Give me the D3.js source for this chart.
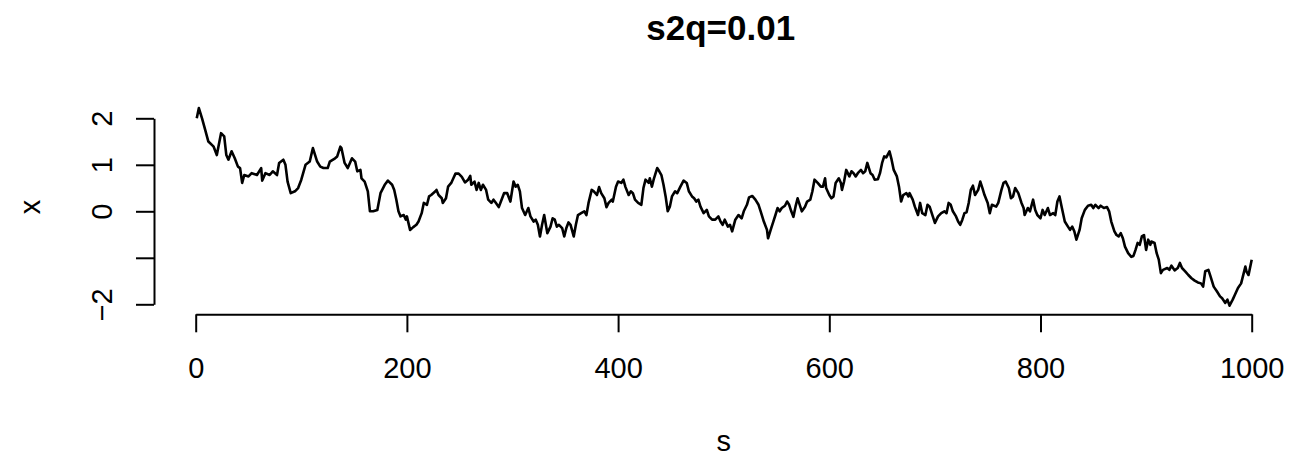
<!DOCTYPE html>
<html>
<head>
<meta charset="utf-8">
<script src="https://cdn.jsdelivr.net/npm/d3@7"></script>
<style>
  html, body { margin: 0; padding: 0; background: #fff; }
  svg { display: block; font-family: "Liberation Sans", Arial, Helvetica, sans-serif; }
</style>
</head>
<body>
<svg id="chart" width="1311" height="458"></svg>
<script>
// Simulated state path: step index s and level x
const walk = [
  [1,2.00],[3,2.22],[6,2.00],[9,1.75],[12,1.50],[17,1.39],[20,1.21],[24,1.68],[27,1.61],[29,1.21],[31,1.11],[34,1.29],[37,1.14],[40,0.96],[42,0.93],[44,0.61],[46,0.78],[50,0.75],[53,0.82],[58,0.78],[62,0.93],[63,0.66],[66,0.82],[70,0.78],[73,0.86],[77,0.78],[79,1.04],[83,1.11],[85,1.00],[87,0.64],[90,0.39],[94,0.43],[97,0.50],[100,0.68],[104,1.00],[108,1.07],[111,1.36],[115,1.07],[118,0.96],[121,0.93],[125,0.93],[127,1.07],[132,1.14],[134,1.18],[137,1.39],[138,1.36],[141,1.04],[144,0.93],[148,1.14],[151,1.07],[153,0.86],[156,0.89],[157,0.71],[160,0.64],[163,0.43],[165,0.00],
  [168,0.00],[172,0.03],[175,0.39],[179,0.57],[182,0.66],[186,0.57],[188,0.46],[190,0.25],[192,0.00],[194,-0.11],[197,-0.08],[199,-0.18],[200,-0.11],[203,-0.40],[206,-0.34],[209,-0.29],[211,-0.22],[214,-0.04],[216,0.18],[219,0.14],[221,0.32],[223,0.35],[227,0.43],[228,0.46],[230,0.35],[233,0.28],[234,0.18],[237,0.28],[239,0.53],[242,0.61],[244,0.71],[246,0.81],[249,0.81],[252,0.74],[255,0.62],[258,0.68],[260,0.76],[261,0.57],[264,0.64],[266,0.46],[268,0.61],[270,0.46],[272,0.57],[275,0.46],[277,0.25],[280,0.18],[282,0.25],[284,0.19],[287,0.09],[289,0.21],[292,0.39],[295,0.39],[298,0.21],[301,0.64],[303,0.53],[305,0.57],[307,0.43],[309,0.07],[312,-0.08],[315,0.07],[317,-0.11],[320,-0.22],[322,-0.18],[324,-0.29],[326,-0.54],[328,-0.29],[330,-0.08],[333,-0.47],
  [336,-0.33],[338,-0.15],[340,-0.18],[342,-0.33],[344,-0.29],[347,-0.36],[349,-0.54],[351,-0.36],[353,-0.24],[355,-0.29],[358,-0.54],[360,-0.29],[362,-0.08],[365,-0.04],[368,0.00],[370,-0.08],[372,0.18],[375,0.46],[377,0.43],[380,0.35],[382,0.52],[384,0.39],[387,0.28],[389,0.09],[391,0.18],[394,0.25],[395,0.21],[398,0.53],[400,0.64],[403,0.61],[405,0.68],[407,0.52],[410,0.35],[412,0.43],[414,0.39],[416,0.25],[419,0.18],[422,0.14],[424,0.50],[426,0.68],[429,0.61],[430,0.71],[432,0.53],[434,0.71],[437,0.93],[439,0.86],[441,0.78],[443,0.57],[445,0.32],[447,0.00],[449,0.10],[451,0.32],[454,0.43],[456,0.39],[459,0.53],[462,0.66],[465,0.61],[467,0.43],[470,0.32],[472,0.28],[474,0.21],[476,0.25],[478,0.10],[481,-0.04],[484,0.03],[486,-0.11],[489,-0.18],[492,-0.18],[495,-0.11],[497,-0.22],[499,-0.29],[501,-0.18],[504,-0.33],
  [506,-0.29],[508,-0.43],[511,-0.18],[514,-0.08],[517,-0.15],[519,0.00],[522,0.14],[524,0.30],[527,0.33],[530,0.25],[533,0.14],[535,0.00],[538,-0.22],[541,-0.40],[542,-0.58],[545,-0.36],[547,-0.22],[549,-0.08],[551,0.07],[553,0.00],[555,0.07],[558,0.12],[560,0.21],[562,0.14],[564,0.00],[566,-0.12],[568,0.10],[570,0.28],[572,0.14],[574,0.00],[577,0.10],[579,0.21],[582,0.25],[584,0.43],[586,0.68],[589,0.61],[592,0.53],[594,0.53],[596,0.71],[597,0.50],[600,0.35],[602,0.28],[604,0.32],[606,0.61],[609,0.71],[611,0.61],[612,0.46],[614,0.64],[616,0.89],[619,0.75],[621,0.86],[623,0.82],[625,0.75],[627,0.82],[630,0.89],[632,0.82],[634,0.86],[636,1.04],[639,0.82],[641,0.78],[643,0.68],[646,0.69],[648,0.82],[650,1.04],[652,1.18],[654,1.16],[657,1.29],[659,1.11],[661,0.89],[664,0.75],[666,0.53],[668,0.21],[670,0.35],[673,0.39],
  [675,0.32],[676,0.39],[679,0.25],[681,0.10],[684,-0.08],[686,0.18],[688,-0.04],[691,-0.08],[693,0.14],[695,0.10],[698,-0.11],[700,-0.25],[703,-0.11],[706,-0.04],[709,0.00],[711,-0.04],[713,0.18],[715,0.14],[717,0.00],[720,-0.11],[722,-0.22],[724,-0.29],[726,-0.18],[728,-0.04],[730,-0.02],[732,0.18],[734,0.46],[736,0.55],[738,0.35],[741,0.46],[743,0.64],[745,0.50],[747,0.35],[750,0.18],[752,-0.04],[754,0.14],[758,0.10],[760,0.18],[763,0.46],[765,0.61],[767,0.64],[770,0.50],[772,0.28],[774,0.32],[776,0.50],[779,0.39],[782,0.18],[784,0.07],[785,-0.08],[788,0.07],[790,0.00],[793,0.25],[795,0.03],[797,-0.08],[800,-0.15],[802,0.03],[804,-0.08],[807,0.07],[809,-0.08],[812,-0.04],[814,-0.08],[816,0.21],[818,0.32],[820,0.10],[823,-0.22],[826,-0.33],[828,-0.40],[830,-0.33],[832,-0.43],[834,-0.61],[837,-0.40],[839,-0.15],[842,0.03],[845,0.12],
  [848,0.14],[850,0.07],[852,0.14],[855,0.07],[857,0.12],[860,0.07],[863,0.09],[865,0.00],[867,-0.22],[870,-0.43],[872,-0.51],[874,-0.54],[876,-0.47],[878,-0.58],[880,-0.76],[883,-0.90],[886,-0.98],[888,-0.96],[890,-0.83],[892,-0.68],[894,-0.72],[896,-0.54],[898,-0.51],[900,-0.83],[902,-0.61],[904,-0.72],[905,-0.65],[908,-0.68],[910,-0.90],[912,-1.04],[914,-1.33],[916,-1.26],[920,-1.22],[922,-1.26],[924,-1.17],[927,-1.27],[930,-1.22],[932,-1.11],[934,-1.22],[937,-1.29],[940,-1.37],[943,-1.44],[946,-1.49],[949,-1.53],[952,-1.55],[954,-1.62],[956,-1.29],[959,-1.26],[961,-1.40],[964,-1.62],[967,-1.72],[970,-1.83],[972,-1.87],[975,-1.97],[977,-1.90],[979,-2.03],[982,-1.90],[984,-1.80],[987,-1.65],[990,-1.55],[994,-1.19],[995,-1.29],[997,-1.37],[1000,-1.04]
];

const xTicks = [0, 200, 400, 600, 800, 1000];
const yTicks = [-2, -1, 0, 1, 2];
const yTickLabels = ["\u22122", "", "0", "1", "2"];
const titleText = "s2q=0.01";
const xLabel = "s";
const yLabel = "x";

const svg = d3.select("#chart");
const fontSize = 29;

const x = d3.scaleLinear().domain([0, 1000]).range([195.7, 1251.7]);
const y = d3.scaleLinear().domain([-2, 2]).range([304.3, 118.3]);

// x axis
const gx = svg.append("g")
  .attr("transform", "translate(0,314.3)")
  .call(d3.axisBottom(x).tickValues(xTicks).tickSize(18).tickSizeOuter(0).tickFormat(d3.format("d")));
gx.select(".domain").attr("stroke", "#000").attr("stroke-width", 2);
gx.selectAll(".tick line").attr("stroke", "#000").attr("stroke-width", 2);
gx.selectAll(".tick text")
  .attr("y", 64).attr("dy", null)
  .attr("font-size", fontSize).attr("font-family", "Liberation Sans, Arial, sans-serif")
  .attr("fill", "#000");

// y axis
const gy = svg.append("g")
  .attr("transform", "translate(154,0)")
  .call(d3.axisLeft(y).tickValues(yTicks).tickSize(18).tickSizeOuter(0)
    .tickFormat((d, i) => yTickLabels[i]));
gy.select(".domain").attr("stroke", "#000").attr("stroke-width", 2);
gy.selectAll(".tick line").attr("stroke", "#000").attr("stroke-width", 2);
gy.selectAll(".tick text")
  .attr("x", null).attr("dy", null)
  .attr("transform", "translate(-42,0) rotate(-90)")
  .attr("text-anchor", "middle")
  .attr("font-size", fontSize).attr("font-family", "Liberation Sans, Arial, sans-serif")
  .attr("fill", "#000");

// series line
const line = d3.line().x(d => x(d[0])).y(d => y(d[1]));
svg.append("path")
  .datum(walk)
  .attr("d", line)
  .attr("fill", "none")
  .attr("stroke", "#000")
  .attr("stroke-width", 2.6)
  .attr("stroke-linejoin", "round");

const cx = (x(0) + x(1000)) / 2;

// title
svg.append("text")
  .attr("x", cx - 3).attr("y", 40)
  .attr("text-anchor", "middle")
  .attr("font-size", 35).attr("font-weight", "bold")
  .text(titleText);

// axis labels
svg.append("text")
  .attr("x", cx).attr("y", 451)
  .attr("text-anchor", "middle")
  .attr("font-size", fontSize)
  .text(xLabel);

svg.append("text")
  .attr("transform", `translate(40,${y(0.095)}) rotate(-90)`)
  .attr("text-anchor", "middle")
  .attr("font-size", fontSize)
  .text(yLabel);
</script>
</body>
</html>
